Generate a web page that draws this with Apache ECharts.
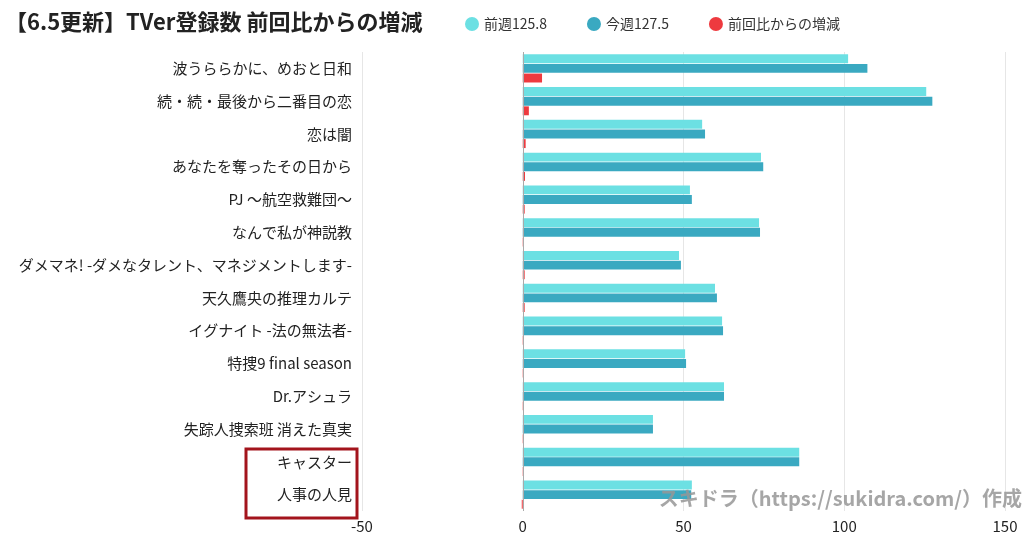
<!DOCTYPE html>
<html><head><meta charset="utf-8">
<script src="https://cdn.jsdelivr.net/npm/echarts@6/dist/echarts.min.js"></script>
<style>html,body{margin:0;background:#fff}#c{width:1024px;height:538px}</style>
</head><body><div id="c"></div>
<script>
var titles = ['波うららかに、めおと日和','続・続・最後から二番目の恋','恋は闇','あなたを奪ったその日から','PJ ～航空救難団～','なんで私が神説教','ダメマネ! -ダメなタレント、マネジメントします-','天久鷹央の推理カルテ','イグナイト -法の無法者-','特捜9 final season','Dr.アシュラ','失踪人捜索班 消えた真実','キャスター','人事の人見'];
var prevWeek = [101.2,125.5,55.8,74.1,52.0,73.5,48.6,59.8,62.0,50.5,62.6,40.5,86.0,52.6];
var thisWeek = [107.2,127.4,56.7,74.8,52.6,73.8,49.2,60.4,62.3,50.8,62.6,40.5,86.0,52.4];
var diff = [6.0,1.9,0.9,0.7,0.6,0.3,0.6,0.6,0.3,0.3,0.0,0.0,0.0,-0.2];
var seriesNames = ['前週125.8','今週127.5','前回比からの増減'];

var chart = echarts.init(document.getElementById('c'));
var font = '"Noto Sans CJK JP", "Noto Sans", sans-serif';
chart.setOption({
  textStyle: { fontFamily: font },
  title: { text: '【6.5更新】TVer登録数 前回比からの増減', left: 0, top: 6,
    textStyle: { fontSize: 22, fontWeight: 'bold', color: '#222', fontFamily: font } },
  legend: { left: 460, top: 12, itemGap: 40, icon: 'circle', itemWidth: 14, itemHeight: 14,
    textStyle: { fontSize: 14, color: '#333' } },
  grid: { left: 362, right: 19, top: 52, bottom: 27, containLabel: false },
  xAxis: { type: 'value', min: -50, max: 150, interval: 50,
    axisLabel: { fontSize: 15, color: '#222' },
    axisLine: { show: false }, axisTick: { show: false },
    splitLine: { lineStyle: { color: '#e6e6e6' } } },
  yAxis: { type: 'category', data: titles, inverse: true,
    axisLine: { show: false }, axisTick: { show: false },
    axisLabel: { fontSize: 15, color: '#222', margin: 10 } },
  color: ['#6ce0e3','#3aa9c1','#ee3a3f'],
  series: [
    { name: seriesNames[0], type: 'bar', data: prevWeek, barGap: '8%', barCategoryGap: '14%',
      markLine: { silent: true, symbol: 'none', label: { show: false },
        lineStyle: { color: '#aaa', type: 'solid', width: 1 }, data: [{ xAxis: 0 }] } },
    { name: seriesNames[1], type: 'bar', data: thisWeek },
    { name: seriesNames[2], type: 'bar', data: diff, barMinHeight: 1 }
  ],
  graphic: [
    { type: 'rect', shape: { x: 246, y: 449, width: 111, height: 69 },
      style: { fill: 'none', stroke: '#a3141c', lineWidth: 3 } },
    { type: 'text', right: 2, top: 488, z: 100,
      style: { text: 'スキドラ（https://sukidra.com/）作成', fill: 'rgba(150,150,150,0.85)',
        font: 'bold 20px ' + font } }
  ]
});
</script></body></html>
